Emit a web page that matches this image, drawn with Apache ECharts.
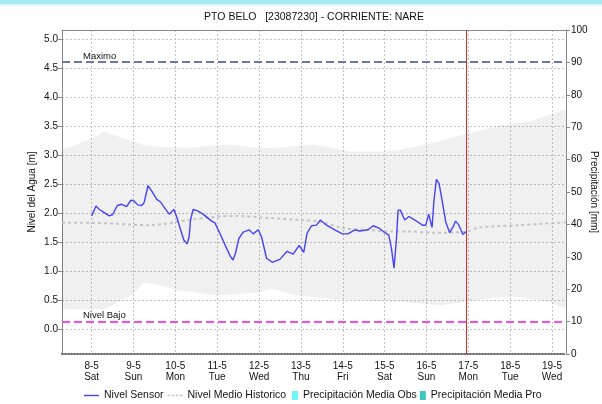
<!DOCTYPE html>
<html>
<head>
<meta charset="utf-8">
<script src="https://cdn.jsdelivr.net/npm/echarts@6/dist/echarts.min.js"></script>
<style>
  html, body { margin: 0; padding: 0; background: #fff; }
  #chart { width: 602px; height: 404px; }
</style>
</head>
<body>
<div id="chart"></div>
<script>
// Time is measured in hours from 8-5 00:00.
const sensorHours = [0, 2.5, 4.4, 6.6, 10.1, 12, 14.7, 17.2, 20, 22.5, 24.2, 26.4, 28.7, 30.1, 32.3,
  34.4, 37.2, 39.5, 42, 44.5, 47.2, 48.7, 51, 52.9, 54.8, 55.9, 56.7, 58.2, 60.5, 63.9,
  68.8, 70.7, 73.5, 77.4, 79.6, 81.1, 82.5, 84.4, 86.9, 90.3, 92.6, 95.5, 97.4, 100.3, 103.5,
  107.9, 112.1, 115.5, 119, 121.6, 123.5, 126.1, 128.9, 131.2, 134.7, 139.4, 143.8, 147, 150.9, 153.7,
  158.5, 161.4, 164.8, 168.1, 170.4, 171.9, 173.4, 174.8, 175.7, 177, 179.5, 182, 185.8, 189.7, 191.6,
  193.3, 195.2, 196.3, 197.7, 199.2, 201.1, 203, 205.3, 207.2, 208.7, 210.6, 212.9, 214.9];
const sensorLevel = [1.95, 2.12, 2.06, 2.02, 1.95, 1.97, 2.13, 2.15, 2.11, 2.22, 2.21, 2.14, 2.13, 2.18, 2.47,
  2.38, 2.24, 2.19, 2.08, 1.98, 2.06, 1.94, 1.71, 1.53, 1.47, 1.59, 1.88, 2.06, 2.04, 1.98,
  1.86, 1.83, 1.65, 1.39, 1.25, 1.19, 1.31, 1.56, 1.67, 1.71, 1.64, 1.71, 1.59, 1.22, 1.15,
  1.20, 1.34, 1.29, 1.44, 1.32, 1.65, 1.78, 1.79, 1.88, 1.79, 1.71, 1.64, 1.64, 1.71, 1.69,
  1.71, 1.78, 1.74, 1.66, 1.62, 1.39, 1.05, 1.56, 2.05, 2.05, 1.88, 1.94, 1.87, 1.79, 1.79,
  1.98, 1.75, 2.22, 2.58, 2.51, 2.19, 1.85, 1.66, 1.76, 1.86, 1.79, 1.63, 1.68];

const histHours = [-17, 0, 33, 58, 81, 104, 119, 131, 144, 158, 171, 182, 196, 215, 222, 245, 272];
const histLevel = [1.83, 1.83, 1.79, 1.89, 1.95, 1.91, 1.88, 1.85, 1.74, 1.71, 1.68, 1.68, 1.66, 1.68, 1.75, 1.79, 1.84];

const bandHours = [-17, 0, 7, 23, 30, 39, 49, 55, 62, 68, 79, 96, 102, 108, 115, 127, 137, 148, 167, 177,
  200, 215, 227, 230, 245, 250, 261, 270, 272];
const bandLow = [0.34, 0.33, 0.33, 0.59, 0.80, 0.76, 0.67, 0.65, 0.62, 0.59, 0.59, 0.63, 0.69, 0.66, 0.59,
  0.55, 0.52, 0.50, 0.48, 0.47, 0.41, 0.47, 0.53, 0.54, 0.55, 0.53, 0.47, 0.38, 0.36];
const bandHigh = [3.09, 3.28, 3.40, 3.24, 3.17, 3.14, 3.13, 3.12, 3.14, 3.16, 3.18, 3.12, 3.12, 3.13, 3.15,
  3.18, 3.13, 3.06, 3.06, 3.09, 3.24, 3.37, 3.45, 3.49, 3.55, 3.57, 3.68, 3.77, 3.79];

const precipObs = [];
const precipPro = [];

const dayTicks = [0, 24, 48, 72, 96, 120, 144, 168, 192, 216, 240, 264];
const dayDates = ['8-5', '9-5', '10-5', '11-5', '12-5', '13-5', '14-5', '15-5', '16-5', '17-5', '18-5', '19-5'];
const dayNames = ['Sat', 'Sun', 'Mon', 'Tue', 'Wed', 'Thu', 'Fri', 'Sat', 'Sun', 'Mon', 'Tue', 'Wed'];
const levelTicks = [0, 0.5, 1, 1.5, 2, 2.5, 3, 3.5, 4, 4.5, 5];

const nivelMaximo = 4.6;
const nivelBajo = 0.13;
const horaActual = 215;

const FONT = "'Liberation Sans', Arial, sans-serif";
const pairs = (xs, ys) => xs.map((x, i) => [x, ys[i]]);

// Historic min/max envelope drawn as one polygon: upper edge forward, lower edge back.
function renderBand(params, api) {
  if (params.dataIndex !== 0) return null;
  const pts = [];
  for (let i = 0; i < bandHours.length; i++) pts.push(api.coord([bandHours[i], bandHigh[i]]));
  for (let i = bandHours.length - 1; i >= 0; i--) pts.push(api.coord([bandHours[i], bandLow[i]]));
  return {
    type: 'polygon',
    shape: { points: pts },
    style: { fill: 'rgba(0,0,0,0.058)', stroke: null }
  };
}

const legendText = { fontSize: 10.5, color: '#111', fontFamily: FONT };

const chart = echarts.init(document.getElementById('chart'), null, { renderer: 'canvas' });

chart.setOption({
  animation: false,
  backgroundColor: '#fff',
  textStyle: { fontFamily: FONT },
  graphic: [
    { type: 'rect', shape: { x: 0, y: 0, width: 602, height: 4 }, style: { fill: '#a7e9f4' }, silent: true },
    { type: 'rect', shape: { x: 0, y: 4, width: 602, height: 2 }, style: { fill: '#dcf7fb' }, silent: true },
    {
      type: 'text', silent: true,
      style: {
        text: 'PTO BELO   [23087230] - CORRIENTE: NARE',
        x: 314, y: 17, align: 'center', verticalAlign: 'middle',
        font: '10.5px ' + FONT, fill: '#111'
      }
    }
  ],
  grid: { left: 62, right: 36, top: 30, bottom: 50, containLabel: false, outerBoundsMode: 'none' },
  legend: [
    {
      left: 84, top: 390, padding: 0,
      itemWidth: 15, itemHeight: 10, itemGap: 4,
      textStyle: legendText,
      data: [
        { name: 'Nivel Sensor', icon: 'path://M0,0H16V1.5H0Z' },
        { name: 'Nivel Medio Historico', icon: 'path://M0,0H3V2H0Z M5,0H8V2H5Z M10,0H13V2H10Z M15,0H18V2H15Z' }
      ]
    },
    {
      left: 292, top: 390, padding: 0,
      itemWidth: 6, itemHeight: 9, itemGap: 3,
      textStyle: legendText,
      data: [
        { name: 'Precipitación Media Obs', icon: 'rect' },
        { name: 'Precipitación Media Pro', icon: 'rect' }
      ]
    }
  ],
  xAxis: [
    {
      type: 'value', min: -17, max: 272, position: 'bottom',
      axisLine: { show: true, onZero: false, lineStyle: { color: '#666', width: 2, type: [1, 2] } },
      axisTick: { show: false, customValues: dayTicks },
      axisLabel: {
        customValues: dayTicks, margin: 7, lineHeight: 11,
        fontSize: 10, color: '#111', fontFamily: FONT,
        formatter: v => { const i = dayTicks.indexOf(v); return i < 0 ? '' : dayDates[i] + '\n' + dayNames[i]; }
      },
      splitLine: { show: true, lineStyle: { color: '#c4c4c4', type: [2, 2], width: 1 } }
    },
    {
      type: 'value', min: -17, max: 272, position: 'top',
      axisLine: { show: true, onZero: false, lineStyle: { color: '#888', width: 1 } },
      axisTick: { show: false }, axisLabel: { show: false }, splitLine: { show: false }
    }
  ],
  yAxis: [
    {
      type: 'value', min: -0.431, max: 5.155, position: 'left',
      name: 'Nivel del Agua [m]', nameLocation: 'middle', nameGap: 25, nameRotate: 90,
      nameMoveOverlap: false,
      nameTextStyle: { fontSize: 10, color: '#111', fontFamily: FONT },
      axisLine: { show: true, onZero: false, lineStyle: { color: '#888' } },
      axisTick: { show: true, length: 4, customValues: levelTicks, lineStyle: { color: '#888' } },
      axisLabel: {
        customValues: levelTicks, margin: 4, fontSize: 10, color: '#111', fontFamily: FONT,
        formatter: v => v.toFixed(1)
      },
      splitLine: { show: true, lineStyle: { color: '#c4c4c4', type: [2, 2], width: 1 } }
    },
    {
      type: 'value', min: 0, max: 100, interval: 10, position: 'right',
      name: 'Precipitación [mm]', nameLocation: 'middle', nameGap: 23, nameRotate: -90,
      nameMoveOverlap: false,
      nameTextStyle: { fontSize: 10, color: '#111', fontFamily: FONT },
      axisLine: { show: true, onZero: false, lineStyle: { color: '#888' } },
      axisTick: { show: true, length: 4, lineStyle: { color: '#888' } },
      axisLabel: { margin: 5, fontSize: 10, color: '#111', fontFamily: FONT },
      splitLine: { show: false }
    }
  ],
  series: [
    {
      name: 'rango-historico', type: 'custom', silent: true,
      xAxisIndex: 0, yAxisIndex: 0, z: 1,
      renderItem: renderBand,
      data: bandHours.map((h, i) => [h, bandLow[i], bandHigh[i]]),
      encode: { x: 0, y: [1, 2] }
    },
    {
      name: 'Nivel Medio Historico', type: 'line', symbol: 'none', smooth: 0.3,
      xAxisIndex: 0, yAxisIndex: 0, z: 3,
      itemStyle: { color: '#c4c4c4' },
      lineStyle: { color: '#c4c4c4', width: 2, type: [3, 3] },
      data: pairs(histHours, histLevel)
    },
    {
      name: 'Nivel Sensor', type: 'line', symbol: 'none',
      xAxisIndex: 0, yAxisIndex: 0, z: 5,
      itemStyle: { color: '#4444f4' },
      lineStyle: { color: '#4444f4', width: 1.4 },
      data: pairs(sensorHours, sensorLevel),
      markLine: {
        silent: true, symbol: 'none', animation: false,
        data: [
          {
            yAxis: nivelMaximo,
            lineStyle: { color: '#6a78a8', width: 2, type: [8, 4] },
            label: { show: true, formatter: 'Maximo', position: 'insideStartTop', distance: 1,
              padding: [0, 0, 0, 20], fontSize: 9.5, color: '#111', fontFamily: FONT }
          },
          {
            yAxis: nivelBajo,
            lineStyle: { color: '#f04cf0', width: 2, type: [8, 4] },
            label: { show: true, formatter: 'Nivel Bajo', position: 'insideStartTop', distance: 1,
              padding: [0, 0, 0, 20], fontSize: 9.5, color: '#111', fontFamily: FONT }
          },
          {
            xAxis: horaActual,
            lineStyle: { color: '#e02828', width: 1, type: 'solid' },
            label: { show: false }
          }
        ]
      }
    },
    {
      name: 'Precipitación Media Obs', type: 'bar', xAxisIndex: 0, yAxisIndex: 1,
      itemStyle: { color: '#6ff6fb' }, data: precipObs
    },
    {
      name: 'Precipitación Media Pro', type: 'bar', xAxisIndex: 0, yAxisIndex: 1,
      itemStyle: { color: '#3cc8c0' }, data: precipPro
    }
  ]
});
</script>
</body>
</html>
